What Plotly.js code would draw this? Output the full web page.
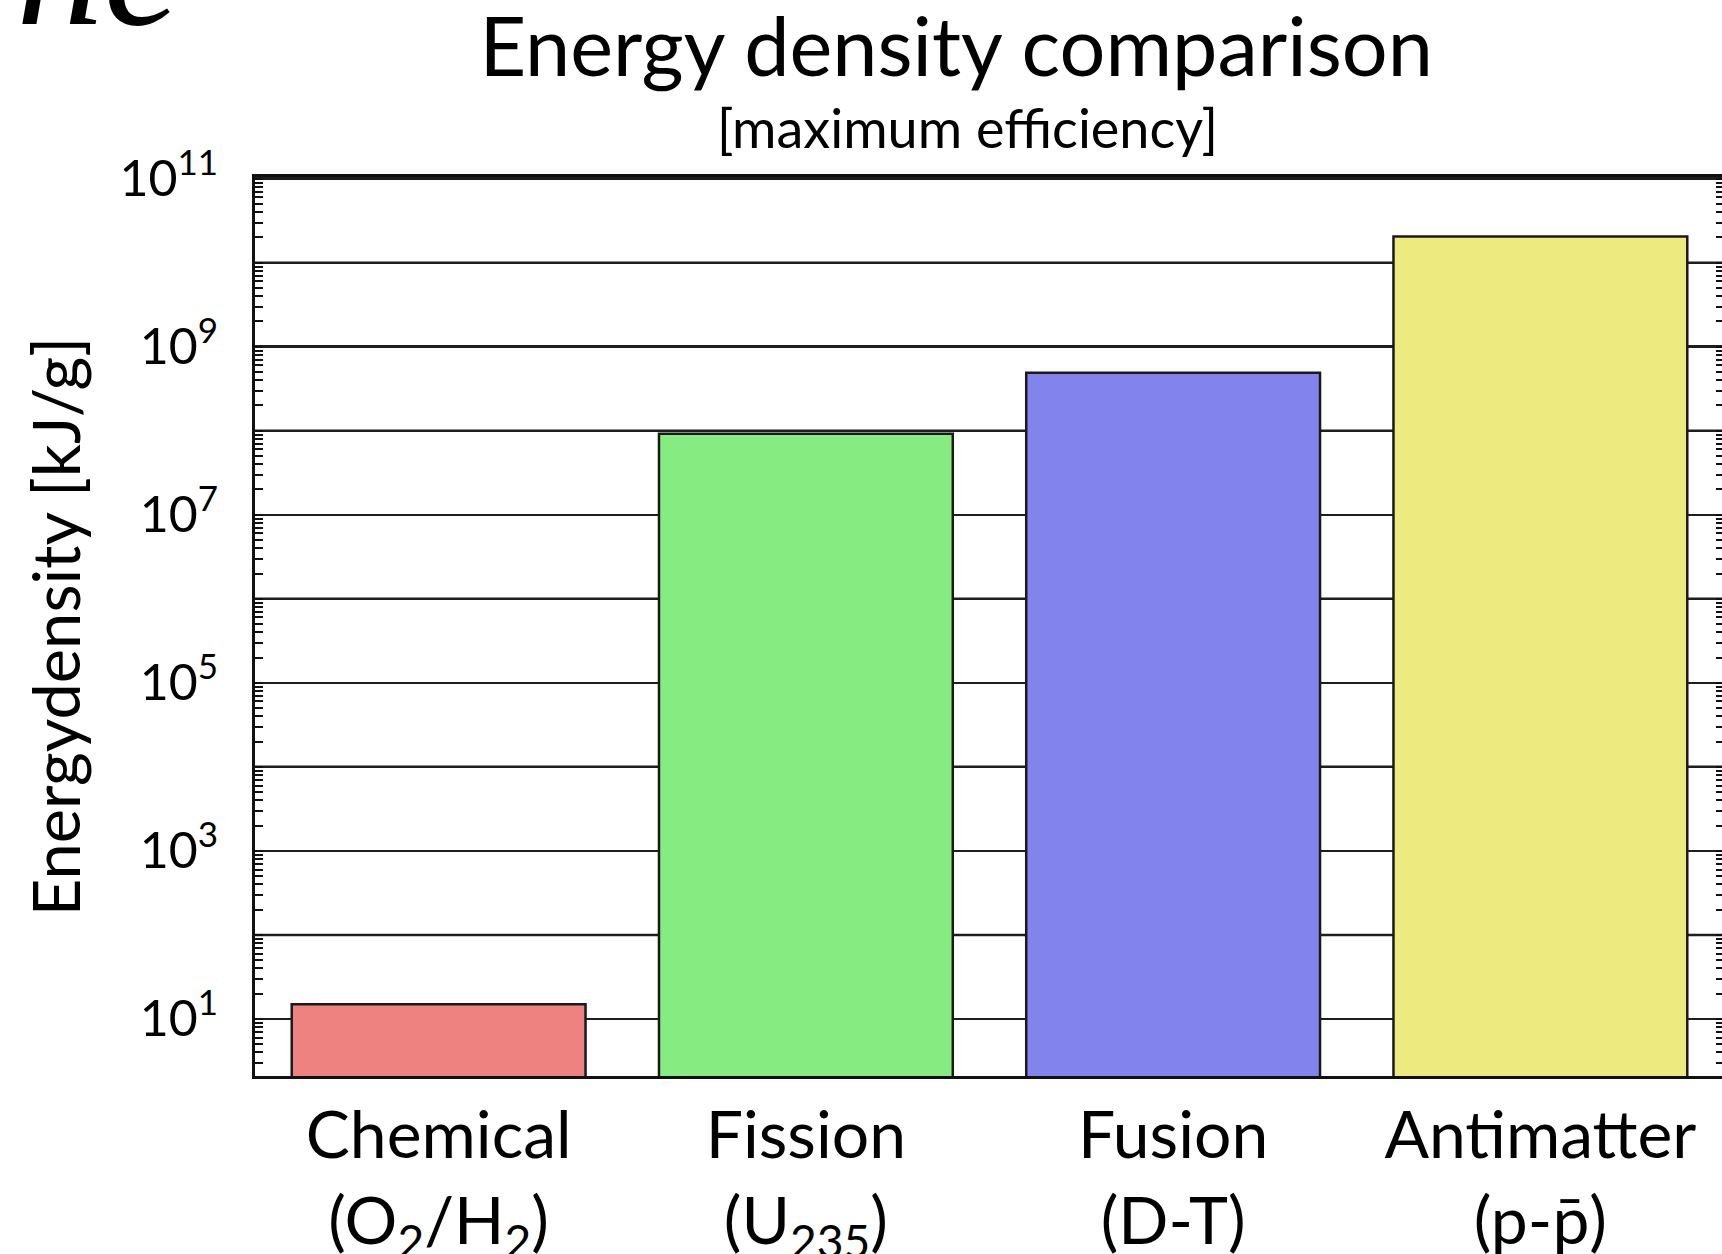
<!DOCTYPE html>
<html>
<head>
<meta charset="utf-8">
<script src="https://cdn.plot.ly/plotly-3.0.1.min.js"></script>
<style>
  html, body { margin: 0; padding: 0; background: #fff; overflow: hidden; }
  #chart { width: 1724px; height: 1254px; }
</style>
</head>
<body>
<div id="chart"></div>
<script>
// ---- data ----
const categories = [
  'Chemical<br>(O<sub>2</sub>/H<sub>2</sub>)',
  'Fission<br>(U<sub>235</sub>)',
  'Fusion<br>(D-T)',
  'Antimatter<br>(p-p\u0304)'
];
const energyDensity = [15, 9.2e7, 4.9e8, 2.05e10];   // kJ/g
const labelledDecades = [1e1, 1e3, 1e5, 1e7, 1e9, 1e11];
const decadeLabels = ['10<sup>1</sup>', '10<sup>3</sup>', '10<sup>5</sup>',
                      '10<sup>7</sup>', '10<sup>9</sup>', '10<sup>11</sup>'];
const unlabelledDecades = [1e2, 1e4, 1e6, 1e8, 1e10];

const FONT = 'Lato, "Open Sans", sans-serif';
const GRID = '#1e1e1e';

const trace = {
  type: 'bar',
  x: categories,
  y: energyDensity,
  width: 0.8,
  marker: {
    color: ['#EE8281', '#86EC81', '#8283EC', '#EDEB80'],
    line: { color: '#1a1a1a', width: 2.5 }
  },
  hoverinfo: 'x+y'
};

const gridShapes = unlabelledDecades.map(v => ({
  type: 'line', layer: 'below',
  xref: 'paper', x0: 0, x1: 1,
  yref: 'y', y0: v, y1: v,
  line: { color: GRID, width: 2.5 }
}));

const layout = {
  width: 1724,
  height: 1254,
  margin: { l: 255, r: 0, t: 177, b: 178 },
  paper_bgcolor: '#ffffff',
  plot_bgcolor: '#ffffff',
  showlegend: false,
  font: { family: FONT, color: '#000' },
  title: {
    text: 'Energy density comparison',
    font: { family: FONT, size: 81, color: '#000' },
    x: 955 / 1722, xanchor: 'center', xref: 'container',
    y: 1 - 19 / 1254, yanchor: 'top', yref: 'container'
  },
  shapes: gridShapes,
  annotations: [
    {
      text: '[maximum efficiency]',
      xref: 'paper', yref: 'paper',
      x: (967 - 255) / 1469, y: (1076 - 128) / 899,
      xanchor: 'center', yanchor: 'middle',
      showarrow: false,
      font: { family: FONT, size: 54, color: '#000' }
    },
    {
      text: 'hc',
      xref: 'paper', yref: 'paper',
      x: (14 - 255) / 1469, y: (1076 - 64) / 899,
      xanchor: 'left', yanchor: 'bottom',
      showarrow: false,
      font: { family: '"Liberation Serif", serif', size: 175, color: '#000', style: 'italic' }
    }
  ],
  xaxis: {
    type: 'category',
    range: [-0.5, 3.5],
    showline: true, linecolor: '#111', linewidth: 3, mirror: true,
    ticks: '', showgrid: false, zeroline: false,
    tickfont: { family: FONT, size: 66, color: '#000' },
    ticklabelstandoff: 0,
    fixedrange: true
  },
  yaxis: {
    type: 'log',
    range: [0.321, 11.02],
    tickmode: 'array',
    tickvals: labelledDecades,
    ticktext: decadeLabels,
    ticks: 'inside', ticklen: 8, tickwidth: 2, tickcolor: '#111',
    showline: true, linecolor: '#111', linewidth: 3, mirror: 'ticks',
    showgrid: true, gridcolor: GRID, gridwidth: 2.5,
    zeroline: false,
    tickfont: { family: FONT, size: 50, color: '#000' },
    ticklabelstandoff: 24,
    minor: {
      tickmode: 'linear',
      dtick: 'D1',
      ticks: 'inside', ticklen: 8, tickwidth: 2, tickcolor: '#111',
      showgrid: false
    },
    title: {
      text: 'Energydensity [kJ/g]',
      font: { family: FONT, size: 65, color: '#000' },
      standoff: 18
    },
    fixedrange: true
  }
};

Plotly.newPlot('chart', [trace], layout, { displayModeBar: false, staticPlot: true });
</script>
</body>
</html>
